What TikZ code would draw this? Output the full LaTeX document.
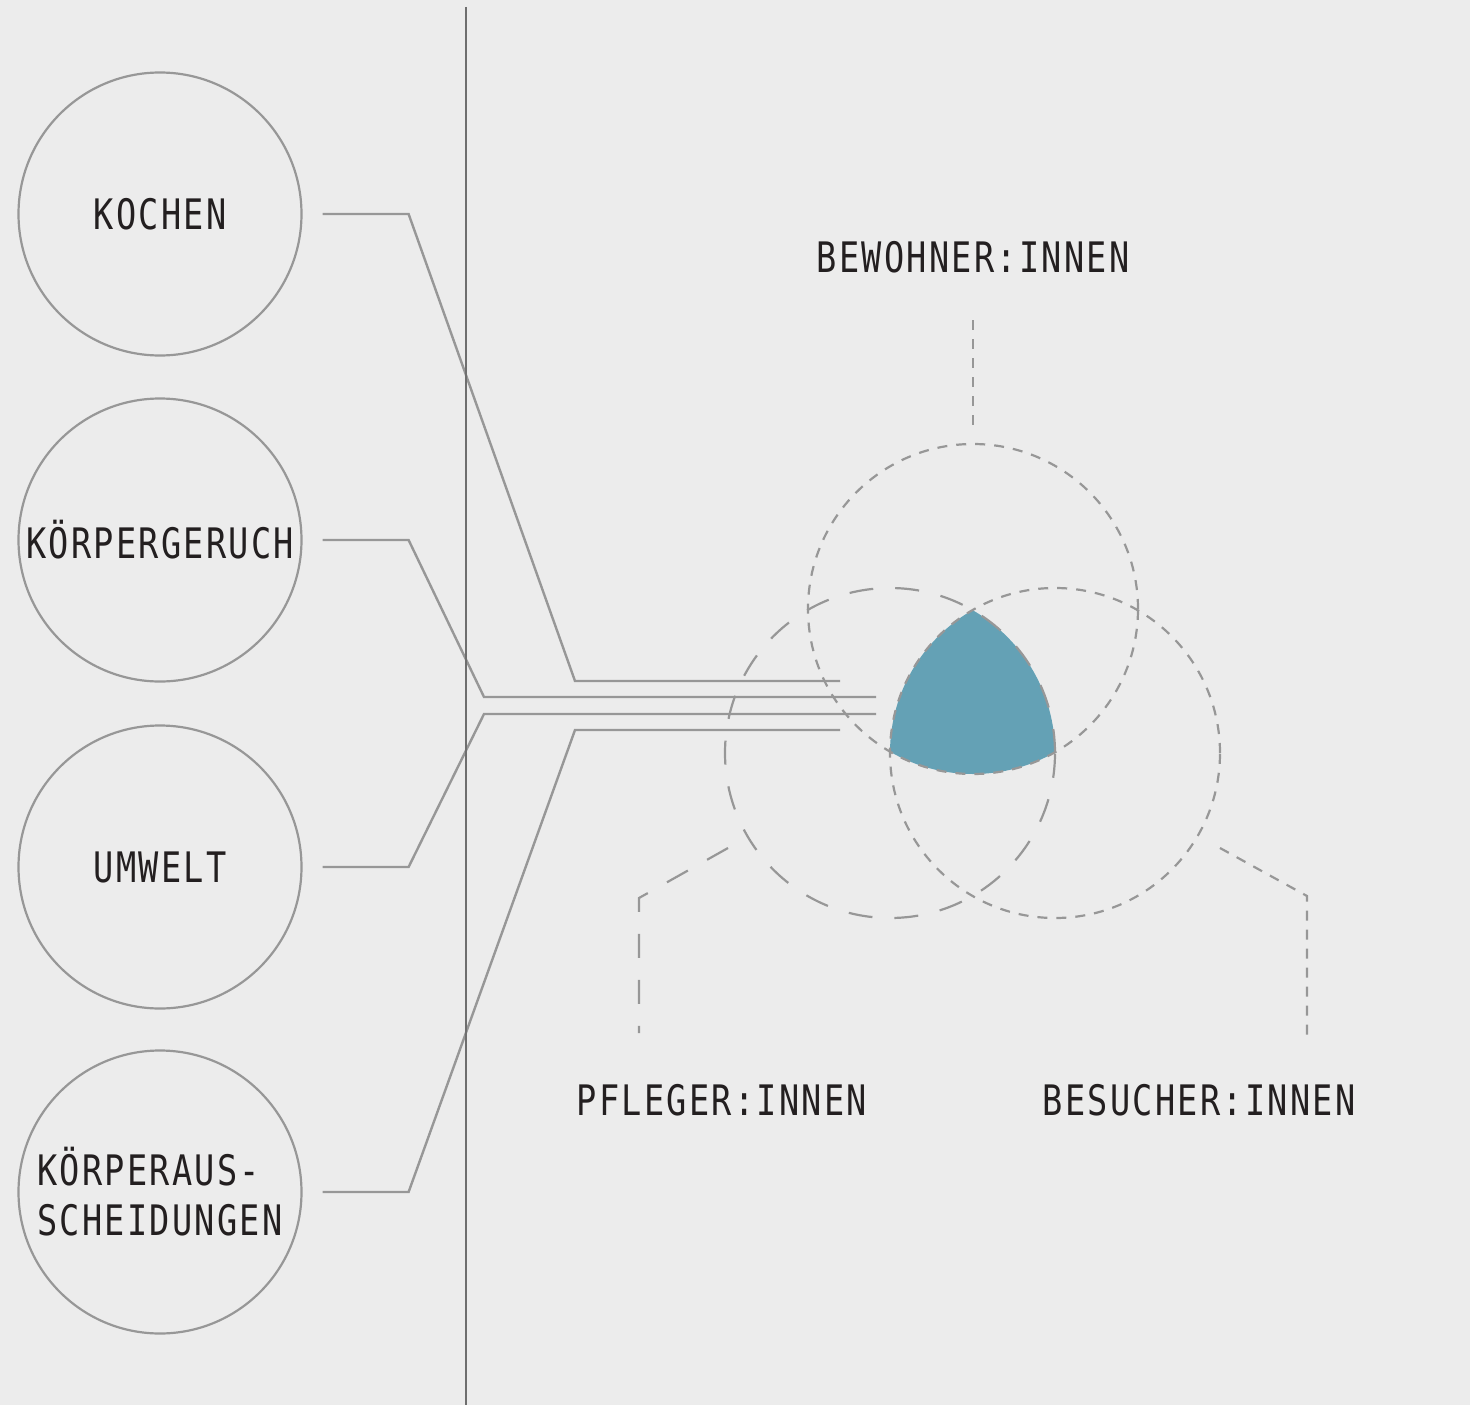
\documentclass[tikz,border=0pt]{standalone}
\usepackage{fontspec}
\newfontfamily\labelfam[FakeStretch=0.8,LetterSpace=5.4]{DejaVu Sans Mono}
\newcommand\labelfont{\labelfam\fontsize{42}{50}\selectfont}
\definecolor{paper}{HTML}{ECECEC}
\definecolor{linegray}{HTML}{979797}
\definecolor{sepgray}{HTML}{6E6E6E}
\definecolor{ink}{HTML}{231F20}
\definecolor{vennblue}{HTML}{64A1B5}

\begin{document}
\begin{tikzpicture}[x=1pt,y=-1pt,
  topic/.style={circle,draw=linegray,line width=2.2pt,minimum size=283pt,inner sep=0pt,text=ink,font=\labelfont},
  caption/.style={inner sep=0pt,anchor=base,text=ink,font=\labelfont},
  tie/.style={draw=linegray,line width=2.4pt,line join=miter},
  fine/.style={draw=linegray,line width=2.2pt,dash pattern=on 10pt off 9pt},
  coarse/.style={draw=linegray,line width=2.2pt,dash pattern=on 24pt off 22pt}]
\useasboundingbox (0,0) rectangle (1470,1405);
\fill[paper] (0,0) rectangle (1470,1405);

\node[topic] (kochen) at (160,214) {KOCHEN};
\node[topic] (geruch) at (160,540) {KÖRPERGERUCH};
\node[topic] (umwelt) at (160,867) {UMWELT};
\node[topic,align=left] (ausscheid) at (160,1192) {KÖRPERAUS-\\SCHEIDUNGEN};

\coordinate (kochenknick) at (575,681);
\coordinate (kochenend) at (840,681);
\coordinate (geruchknick) at (484,697);
\coordinate (geruchend) at (876,697);
\coordinate (umweltknick) at (484,714);
\coordinate (umweltend) at (876,714);
\coordinate (ausscheidknick) at (575,730);
\coordinate (ausscheidend) at (840,730);

\draw[tie,shorten <=20pt] (kochen.east) -- ++(106,0) -- (kochenknick) -- (kochenend);
\draw[tie,shorten <=20pt] (geruch.east) -- ++(106,0) -- (geruchknick) -- (geruchend);
\draw[tie,shorten <=20pt] (umwelt.east) -- ++(106,0) -- (umweltknick) -- (umweltend);
\draw[tie,shorten <=20pt] (ausscheid.east) -- ++(106,0) -- (ausscheidknick) -- (ausscheidend);

\draw[sepgray,line width=2.2pt] (466,7) -- (466,1405);

\coordinate (bew) at (973,609);
\coordinate (pfl) at (890,753);
\coordinate (bes) at (1055,753);

\begin{scope}
\clip (pfl) circle [radius=165pt];
\clip (bes) circle [radius=165pt];
\fill[vennblue] (bew) circle [radius=165pt];
\end{scope}
\draw[fine] (bew) circle [radius=165pt];
\draw[coarse] (pfl) circle [radius=165pt];
\draw[fine] (bes) circle [radius=165pt];

\node[caption] (bewtxt) at (973,272) {BEWOHNER:INNEN};
\node[caption] (pfltxt) at (722,1115) {PFLEGER:INNEN};
\node[caption] (bestxt) at (1199,1115) {BESUCHER:INNEN};

\coordinate (bewfuss) at (973,320);
\coordinate (bewkopf) at (973,430);
\coordinate (pflstart) at (728,848);
\coordinate (pflknick) at (639,898);
\coordinate (pflfuss) at (639,1033);
\coordinate (besstart) at (1220,848);
\coordinate (besknick) at (1307,896);
\coordinate (besfuss) at (1307,1040);

\draw[fine] (bewfuss) -- (bewkopf);
\draw[coarse] (pflstart) -- (pflknick) -- (pflfuss);
\draw[fine] (besstart) -- (besknick) -- (besfuss);
\end{tikzpicture}
\end{document}
